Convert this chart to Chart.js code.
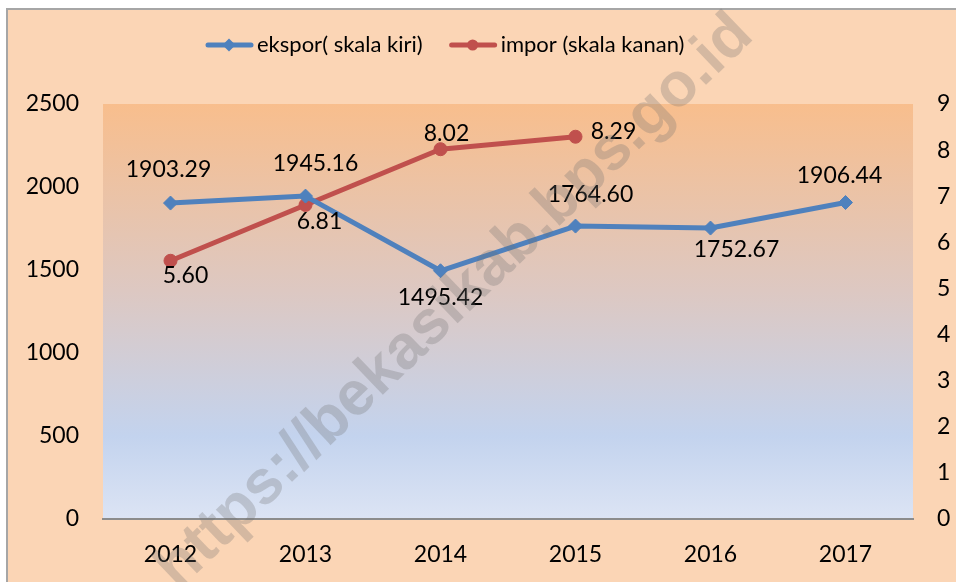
<!DOCTYPE html>
<html>
<head>
<meta charset="utf-8">
<script src="https://cdn.jsdelivr.net/npm/chart.js@4/dist/chart.umd.min.js"></script>
<style>
html,body{margin:0;padding:0;background:#ffffff;overflow:hidden;}
canvas{display:block;}
</style>
</head>
<body>
<canvas id="c" width="956" height="582"></canvas>
<script>
// ---- data ----
const categories = ['2012', '2013', '2014', '2015', '2016', '2017'];
const eksporValues = [1903.29, 1945.16, 1495.42, 1764.60, 1752.67, 1906.44];
const imporValues = [5.60, 6.81, 8.02, 8.29, null, null];
const leftTickValues = [0, 500, 1000, 1500, 2000, 2500];
const rightTickValues = [0, 1, 2, 3, 4, 5, 6, 7, 8, 9];
const seriesNames = ['ekspor( skala kiri)', 'impor (skala kanan)'];
const watermarkText = 'https://bekasikab.bps.go.id';

const FONT = 'Lato, "Open Sans", sans-serif';
const BLUE = '#4F81BD';
const RED = '#C0504D';
const PEACH = '#FBD5B5';

const backgroundPlugin = {
  id: 'bg',
  beforeDraw(chart) {
    const ctx = chart.ctx, a = chart.chartArea;
    ctx.save();
    ctx.fillStyle = '#ffffff';
    ctx.fillRect(0, 0, chart.width, chart.height);
    ctx.fillStyle = PEACH;
    ctx.fillRect(8, 10, chart.width, chart.height);
    ctx.strokeStyle = '#a6a6a6';
    ctx.lineWidth = 2;
    ctx.beginPath();
    ctx.moveTo(7, chart.height);
    ctx.lineTo(7, 9);
    ctx.lineTo(chart.width, 9);
    ctx.stroke();
    const g = ctx.createLinearGradient(0, a.top, 0, a.bottom);
    g.addColorStop(0, '#F8BE8D');
    g.addColorStop(0.45, '#DDC8C2');
    g.addColorStop(0.8, '#C3D3EE');
    g.addColorStop(1, '#DCE4F4');
    ctx.fillStyle = g;
    ctx.fillRect(a.left, a.top, a.right - a.left, a.bottom - a.top);
    ctx.restore();
  }
};

const legendPlugin = {
  id: 'manualLegend',
  afterDraw(chart, args, opts) {
    const ctx = chart.ctx;
    ctx.save();
    ctx.font = opts.font;
    ctx.textBaseline = 'middle';
    let x = opts.startX;
    const y = opts.y;
    chart.data.datasets.forEach((ds, i) => {
      ctx.strokeStyle = ds.borderColor;
      ctx.lineWidth = 5;
      ctx.lineCap = 'round';
      ctx.beginPath();
      ctx.moveTo(x + 2, y);
      ctx.lineTo(x + 45, y);
      ctx.stroke();
      ctx.fillStyle = ds.borderColor;
      ctx.beginPath();
      const r = opts.markerRadius;
      if (ds.pointStyle === 'circle') { ctx.arc(x + 23, y, r, 0, Math.PI * 2); }
      else { const d = r + 1; ctx.moveTo(x + 23, y - d); ctx.lineTo(x + 23 + d, y); ctx.lineTo(x + 23, y + d); ctx.lineTo(x + 23 - d, y); ctx.closePath(); }
      ctx.fill();
      ctx.fillStyle = '#000';
      ctx.textAlign = 'left';
      ctx.fillText(ds.label, x + 51, y);
      x += 51 + ctx.measureText(ds.label).width + opts.gap;
    });
    ctx.restore();
  }
};

const labelPlugin = {
  id: 'valueLabels',
  afterDatasetsDraw(chart, args, opts) {
    const ctx = chart.ctx;
    ctx.save();
    ctx.font = opts.font;
    ctx.fillStyle = '#000';
    ctx.textAlign = 'center';
    ctx.textBaseline = 'middle';
    chart.data.datasets.forEach((ds, di) => {
      const meta = chart.getDatasetMeta(di);
      meta.data.forEach((pt, i) => {
        const v = ds.data[i];
        if (v === null || v === undefined) return;
        const off = opts.offsets[di][i];
        ctx.fillText(v.toFixed(2), pt.x + off[0], pt.y + off[1]);
      });
    });
    ctx.restore();
  }
};

const watermarkPlugin = {
  id: 'watermark',
  afterDraw(chart) {
    const ctx = chart.ctx;
    ctx.save();
    ctx.translate(455, 302);
    ctx.rotate(-43.8 * Math.PI / 180);
    ctx.font = 'bold 62px "Liberation Sans", Arial, sans-serif';
    ctx.fillStyle = 'rgba(110,110,110,0.28)';
    ctx.textAlign = 'center';
    ctx.textBaseline = 'middle';
    ctx.fillText(watermarkText, 0, 0);
    ctx.restore();
  }
};

new Chart(document.getElementById('c'), {
  type: 'line',
  data: {
    labels: categories,
    datasets: [
      {
        label: seriesNames[0],
        data: eksporValues,
        yAxisID: 'yLeft',
        borderColor: BLUE,
        backgroundColor: BLUE,
        borderWidth: 5,
        pointStyle: 'rectRot',
        pointRadius: 7,
        pointBorderWidth: 1,
        pointBackgroundColor: BLUE,
        pointBorderColor: BLUE,
        tension: 0,
        borderJoinStyle: 'round',
        borderCapStyle: 'round'
      },
      {
        label: seriesNames[1],
        data: imporValues,
        yAxisID: 'yRight',
        borderColor: RED,
        backgroundColor: RED,
        borderWidth: 5,
        pointStyle: 'circle',
        pointRadius: 6.5,
        pointBorderWidth: 1,
        pointBackgroundColor: RED,
        pointBorderColor: RED,
        tension: 0,
        spanGaps: false,
        borderJoinStyle: 'round',
        borderCapStyle: 'round'
      }
    ]
  },
  options: {
    responsive: false,
    animation: false,
    layout: {padding: {left: 0, right: 0, top: 104, bottom: 0}},
    plugins: {
      legend: {display: false},
      tooltip: {enabled: false},
      manualLegend: {font: '22px ' + FONT, startX: 206, y: 45, gap: 27, markerRadius: 5.5},
      valueLabels: {
        font: '23px ' + FONT,
        offsets: [
          [[-2, -33], [10, -33], [0, 27], [15, -31], [26, 22], [-6, -27]],
          [[15, 15], [14, 17], [6, -16], [38, -5]]
        ]
      }
    },
    scales: {
      x: {
        type: 'category',
        offset: true,
        grid: {display: false, drawTicks: false},
        border: {display: true, color: '#8c8c8c', width: 2},
        ticks: {font: {family: FONT, size: 23}, color: '#000', padding: 22},
        afterFit(s) { s.height = 63; }
      },
      yLeft: {
        position: 'left',
        min: 0, max: 2500,
        grid: {display: false, drawTicks: false},
        border: {display: false},
        afterBuildTicks(s) { s.ticks = leftTickValues.map(v => ({value: v})); },
        ticks: {font: {family: FONT, size: 23}, color: '#000', padding: 24, callback: v => String(v)},
        afterFit(s) { s.width = 103; }
      },
      yRight: {
        position: 'right',
        min: 0, max: 9,
        grid: {display: false, drawTicks: false},
        border: {display: false},
        afterBuildTicks(s) { s.ticks = rightTickValues.map(v => ({value: v})); },
        ticks: {font: {family: FONT, size: 23}, color: '#000', padding: 24, callback: v => String(v)},
        afterFit(s) { s.width = 43; }
      }
    }
  },
  plugins: [backgroundPlugin, labelPlugin, legendPlugin, watermarkPlugin]
});
</script>
</body>
</html>
